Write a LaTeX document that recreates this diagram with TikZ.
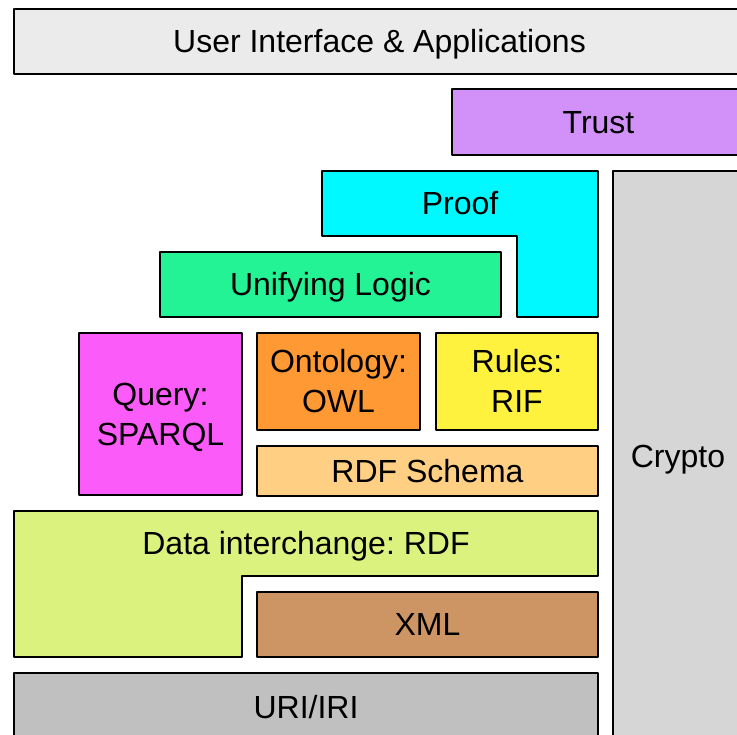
\documentclass[tikz,border=0pt]{standalone}
\usepackage{fontspec}
\setmainfont{Liberation Sans}
\definecolor{cUI}{HTML}{EBEBEB}
\definecolor{cTrust}{HTML}{D291F9}
\definecolor{cProof}{HTML}{00F8FF}
\definecolor{cLogic}{HTML}{23F295}
\definecolor{cQuery}{HTML}{FB5CF9}
\definecolor{cOnto}{HTML}{FF9933}
\definecolor{cRules}{HTML}{FFF23F}
\definecolor{cRDFS}{HTML}{FFD084}
\definecolor{cData}{HTML}{DCF27E}
\definecolor{cXML}{HTML}{CE9564}
\definecolor{cURI}{HTML}{C0C0C0}
\definecolor{cCrypto}{HTML}{D6D6D6}
\begin{document}
\frenchspacing
\begin{tikzpicture}[x=1pt,y=-1pt,
  txt/.style={inner sep=0pt, font=\fontsize{32}{40}\selectfont\frenchspacing, align=center,
    text height=22.9pt, text depth=0pt},
  twoline/.style={text height=62.9pt, text depth=0pt},
  layer/.style={txt, draw=black, line width=2.8pt, line join=round},
  lshape/.style={draw=black, line width=2.8pt, line join=round}]
\useasboundingbox (0,0) rectangle (737,735);
\clip (0,0) rectangle (737,735);
% Crypto (behind)
\node[layer, fill=cCrypto, minimum width=130pt, minimum height=570pt] (crypto) at (678,456) {Crypto};
% User interface
\node[layer, fill=cUI, minimum width=731pt, minimum height=65pt] (ui) at (379.5,41.5) {User Interface \& Applications};
% Trust
\node[layer, fill=cTrust, minimum width=293pt, minimum height=66pt] (trust) at (598.5,122) {Trust};
% Proof (L-shape)
\coordinate (p1) at (322,171); \coordinate (p2) at (598,171); \coordinate (p3) at (598,317);
\coordinate (p4) at (517,317); \coordinate (p5) at (517,236); \coordinate (p6) at (322,236);
\path[lshape, fill=cProof] (p1) -- (p2) -- (p3) -- (p4) -- (p5) -- (p6) -- cycle;
\node[txt] (proof) at (460,203.5) {Proof};
% Unifying logic
\node[layer, fill=cLogic, minimum width=341pt, minimum height=65pt] (logic) at (330.5,284.5) {Unifying Logic};
% Query
\node[layer, twoline, fill=cQuery, minimum width=163pt, minimum height=162pt] (query) at (160.5,414) {Query:\\SPARQL};
% Ontology
\node[layer, twoline, fill=cOnto, minimum width=163pt, minimum height=97pt] (onto) at (338.5,381.5) {Ontology:\\OWL};
% Rules
\node[layer, twoline, fill=cRules, minimum width=162pt, minimum height=97pt] (rules) at (517,381.5) {Rules:\\RIF};
% RDF Schema
\node[layer, fill=cRDFS, minimum width=341pt, minimum height=50pt] (rdfs) at (427.5,471) {RDF Schema};
% Data interchange (L-shape)
\coordinate (d1) at (14,511); \coordinate (d2) at (598,511); \coordinate (d3) at (598,576);
\coordinate (d4) at (242,576); \coordinate (d5) at (242,657); \coordinate (d6) at (14,657);
\path[lshape, fill=cData] (d1) -- (d2) -- (d3) -- (d4) -- (d5) -- (d6) -- cycle;
\node[txt] (rdf) at (306,543.5) {Data interchange: RDF};
% XML
\node[layer, fill=cXML, minimum width=341pt, minimum height=65pt] (xml) at (427.5,624.5) {XML};
% URI
\node[layer, fill=cURI, minimum width=584pt, minimum height=68pt] (uri) at (306,707) {URI/IRI};
\end{tikzpicture}
\end{document}
